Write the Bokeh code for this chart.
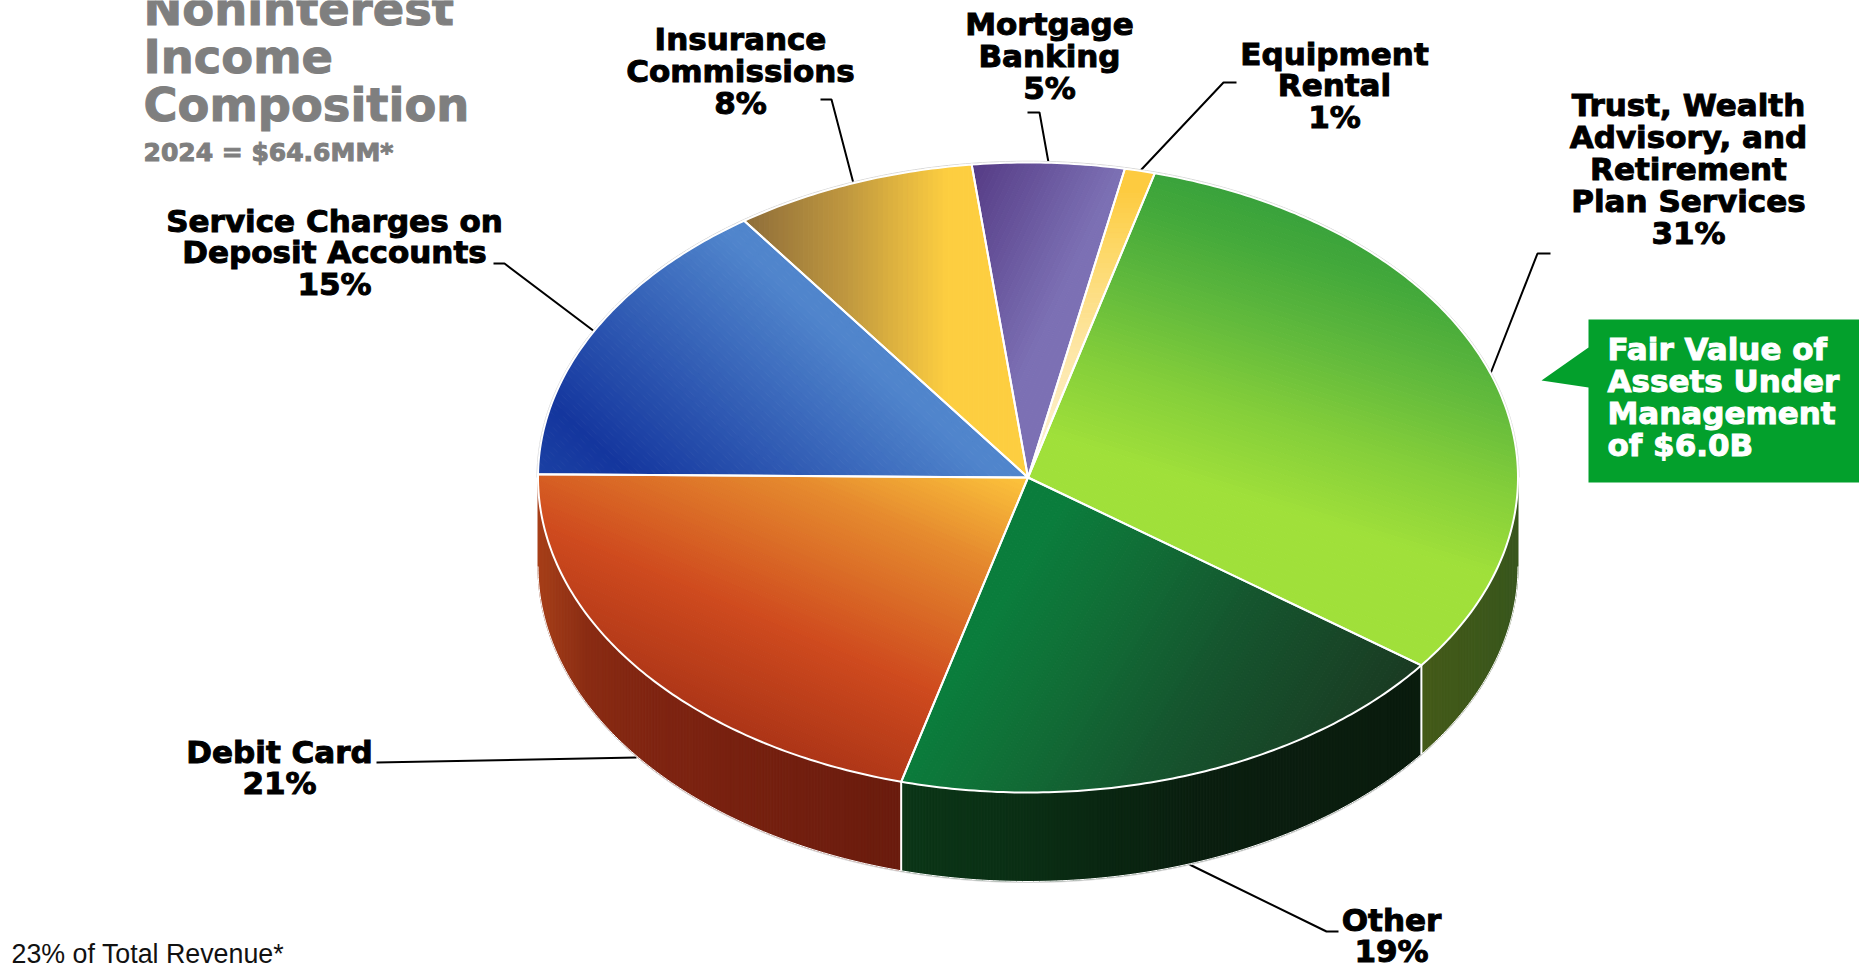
import math
from bokeh.plotting import figure
from bokeh.models import Range1d
from bokeh.core.properties import value
from bokeh.embed import file_html
from bokeh.resources import INLINE

# ---- data ----
categories = ["Trust, Wealth\nAdvisory, and\nRetirement\nPlan Services", "Other", "Debit Card",
              "Service Charges on\nDeposit Accounts", "Insurance\nCommissions", "Mortgage\nBanking",
              "Equipment\nRental"]
shares = [31, 19, 21, 15, 8, 5, 1]
title_lines = "Noninterest\nIncome\nComposition"
subtitle = "2024 = $64.6MM*"
footnote = "23% of Total Revenue*"
callout = "Fair Value of\nAssets Under\nManagement\nof $6.0B"

# ---- layout ----
CX, CY, RX, RY, DEPTH = 1027.5, 477.0, 490.0, 315.0, 89.0
START = 15.0
label_pos = [(1688, 168.5), (1391, 935), (279, 767), (334, 252), (740, 70.5), (1049, 55.5), (1334, 85)]
leaders = [
    [(1550, 253), (1537, 253), (1490, 373)],
    [(1189, 864), (1326, 931), (1338, 931)],
    [(376, 762), (636, 757)],
    [(493, 263), (504, 263), (594, 331)],
    [(820, 99), (831, 99), (853, 183)],
    [(1027, 112), (1039, 112), (1048, 162)],
    [(1236, 82), (1223, 82), (1140, 170)],
]

# gradient per top face: normal vector, (position, colour) stops
top_grad = [
    ((-.3, .95), [(-200, "#36a03c"), (-145, "#44a93b"), (-65, "#62ba3c"), (15, "#84ce3a"), (100, "#a0e03a")]),
    ((.8, .5), [(1100, "#0a7d3c"), (1180, "#107037"), (1303, "#15552e"), (1470, "#1a3a22")]),
    ((-.39, .92), [(38, "#fdc53c"), (132, "#e58a2e"), (272, "#cf4a1e"), (400, "#a83216")]),
    ((.67, -.74), [(0, "#1c42a4"), (70, "#14369e"), (315, "#5085cc")]),
    ((1, 0), [(747, "#8f6e3a"), (847, "#c0983f"), (947, "#fdce40")]),
    ((.9, .43), [(946, "#553b85"), (1081, "#7c70b4")]),
    ((0, 1), [(190, "#fdcb40"), (250, "#fdd868"), (350, "#fde6a5"), (470, "#fdf3d8")]),
]
side_grad = {
    0: [(1422, "#445a18"), (1517, "#38561c")],
    1: [(901, "#0b3617"), (1030, "#0a2e14"), (1200, "#0a1e0f"), (1422, "#0a1c0e")],
    2: [(537, "#a73f18"), (587, "#8a2c13"), (653, "#7f2411"), (787, "#731f0f"), (901, "#6a1c0e")],
}


def pt(a, dy=0.0):
    r = math.radians(a)
    return CX + RX * math.sin(r), CY - RY * math.cos(r) + dy


def arc(a0, a1, dy=0.0):
    n = max(2, int(abs(a1 - a0) * 1.5))
    return [pt(a0 + (a1 - a0) * i / n, dy) for i in range(n + 1)]


def clip(poly, nx, ny, lim, keep_above):
    out = []
    for i in range(len(poly)):
        a, b = poly[i], poly[(i + 1) % len(poly)]
        sa = a[0] * nx + a[1] * ny - lim
        sb = b[0] * nx + b[1] * ny - lim
        if not keep_above:
            sa, sb = -sa, -sb
        if sa >= 0:
            out.append(a)
        if (sa >= 0) != (sb >= 0):
            t = sa / (sa - sb)
            out.append((a[0] + (b[0] - a[0]) * t, a[1] + (b[1] - a[1]) * t))
    return out


def color_at(stops, s):
    if s <= stops[0][0]:
        return stops[0][1]
    for (s0, c0), (s1, c1) in zip(stops, stops[1:]):
        if s <= s1:
            t = (s - s0) / (s1 - s0)
            ch = [round(int(c0[i:i + 2], 16) * (1 - t) + int(c1[i:i + 2], 16) * t) for i in (1, 3, 5)]
            return "#%02x%02x%02x" % tuple(ch)
    return stops[-1][1]


def bands(poly, normal, stops, step=5.0):
    nx, ny = normal
    ss = [p[0] * nx + p[1] * ny for p in poly]
    lo, hi = min(ss), max(ss)
    n = max(1, int((hi - lo) / step) + 1)
    xs, ys, cs = [], [], []
    for k in range(n):
        a = lo + (hi - lo) * k / n
        b = lo + (hi - lo) * (k + 1) / n
        q = clip(clip(poly, nx, ny, a, True), nx, ny, b, False)
        if len(q) >= 3:
            xs.append([p[0] for p in q])
            ys.append([p[1] for p in q])
            cs.append(color_at(stops, (a + b) / 2))
    return xs, ys, cs


total = sum(shares)
edges = [START]
for v in shares:
    edges.append(edges[-1] + v / total * 360)

p = figure(width=1859, height=965, x_range=Range1d(0, 1859), y_range=Range1d(965, 0),
           output_backend="svg", toolbar_location=None, x_axis_location=None, y_axis_location=None,
           min_border=0, outline_line_color=None, background_fill_color="white")
p.grid.visible = False

# leaders sit behind the pie
p.multi_line([[q[0] for q in l] for l in leaders], [[q[1] for q in l] for l in leaders],
             line_color="black", line_width=2)

# faint rim
low = arc(90, 270, DEPTH)
p.line([CX + (q[0] - CX) * 1.002 for q in arc(-90, 90)], [CY + (q[1] - CY) * 1.004 for q in arc(-90, 90)],
       line_color="#d4d4d4", line_width=1)
p.line([q[0] for q in low], [q[1] + 1 for q in low], line_color="#d4d4d4", line_width=1)

# side walls
for i, stops in side_grad.items():
    a0, a1 = max(edges[i], 90), min(edges[i + 1], 270)
    poly = arc(a0, a1) + arc(a1, a0, DEPTH)
    xs, ys, cs = bands(poly, (1, 0), stops, 3.0)
    p.patches(xs, ys, fill_color=cs, line_color=cs, line_width=1, line_join="round")

# top faces
for i in range(len(shares)):
    poly = [(CX, CY)] + arc(edges[i], edges[i + 1])
    xs, ys, cs = bands(poly, top_grad[i][0], top_grad[i][1])
    p.patches(xs, ys, fill_color=cs, line_color=cs, line_width=1, line_join="round")

# white borders
for i in range(len(shares)):
    poly = [(CX, CY)] + arc(edges[i], edges[i + 1]) + [(CX, CY)]
    p.line([q[0] for q in poly], [q[1] for q in poly], line_color="white", line_width=2, line_join="round")
for a in edges[1:3]:
    p.line([pt(a)[0]] * 2, [pt(a)[1], pt(a, DEPTH)[1]], line_color="white", line_width=2)
p.line([q[0] for q in low], [q[1] for q in low], line_color="white", line_width=1)

# callout
cb_x = [1588, 1859, 1859, 1588, 1588, 1541, 1588]
cb_y = [319, 319, 482, 482, 387, 380, 347]
p.patch(cb_x, cb_y, fill_color="#03a02c", line_color=None)

# texts
font = value("DejaVu Sans")
p.text([q[0] for q in label_pos],
       [q[1] for q in label_pos],
       text=[c + "\n" + f"{v}%" for c, v in zip(categories, shares)],
       text_font=font, text_font_style="bold", text_font_size="31px", text_color="black",
       text_outline_color="black",
       text_align="center", text_baseline="middle", text_line_height=0.885)
p.text([1607], [396.6], text=[callout], text_font=font, text_font_style="bold", text_font_size="31px",
       text_color="white", text_outline_color="white",
       text_align="left", text_baseline="middle", text_line_height=0.885)
p.text([143], [56.5], text=[title_lines], text_font=font, text_font_style="bold", text_font_size="46.4px",
       text_color="#7f7f7f", text_outline_color="#7f7f7f",
       text_align="left", text_baseline="middle", text_line_height=0.892)
p.text([143], [152], text=[subtitle], text_font=font, text_font_style="bold", text_font_size="25px",
       text_color="#7f7f7f", text_outline_color="#7f7f7f", text_align="left", text_baseline="middle")
p.text([11], [953.5], text=[footnote], text_font=value("Liberation Sans"), text_font_size="26.8px",
       text_color="#111111", text_align="left", text_baseline="middle")

open("out.html", "w").write(file_html(p, INLINE))
